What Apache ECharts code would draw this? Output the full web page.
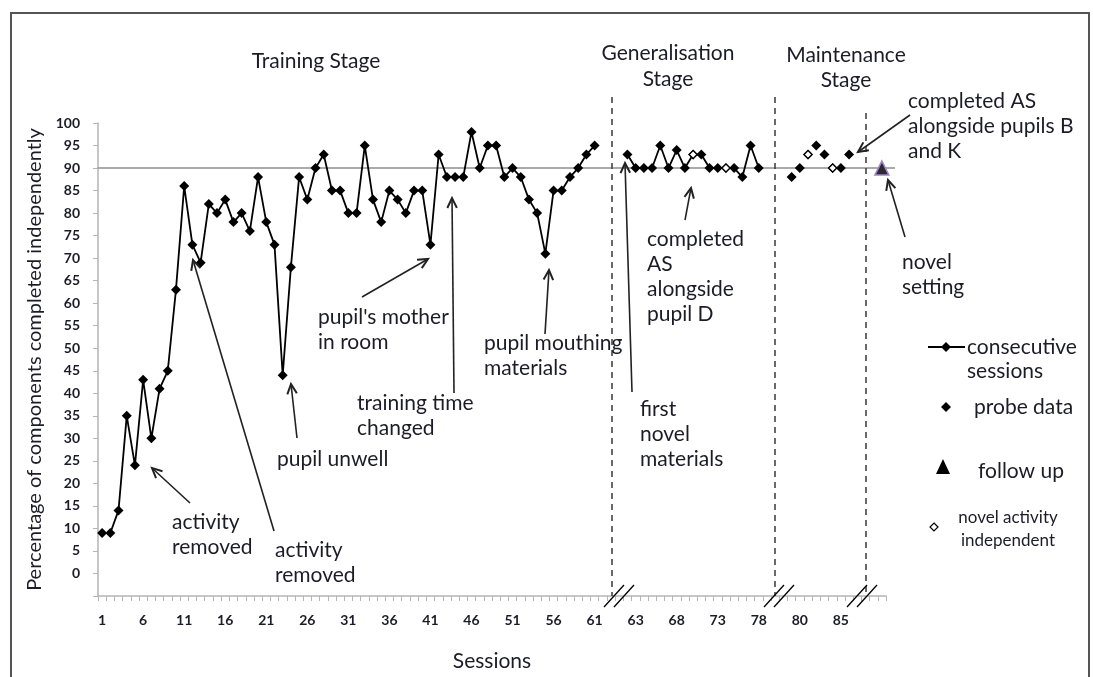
<!DOCTYPE html>
<html>
<head>
<meta charset="utf-8">
<script src="https://cdn.jsdelivr.net/npm/echarts@6/dist/echarts.min.js"></script>
<style>
  html, body { margin: 0; padding: 0; background: #fff; }
  #chart { width: 1093px; height: 677px; }
</style>
</head>
<body>
<div id="chart"></div>
<script>
// x categories: sessions, with empty slots where the axis is broken
const sessions = [
  '1','2','3','4','5','6','7','8','9','10','11','12','13','14','15','16','17','18','19','20',
  '21','22','23','24','25','26','27','28','29','30','31','32','33','34','35','36','37','38','39','40',
  '41','42','43','44','45','46','47','48','49','50','51','52','53','54','55','56','57','58','59','60','61',
  '', '', '',
  '62','63','64','65','66','67','68','69','70','71','72','73','74','75','76','77','78',
  '', '', '',
  '79','80','81','82','83','84','85','86',
  '', '', '', ''
];

// sessions 1-61
const trainingValues = [
  9, 9, 14, 35, 24, 43, 30, 41, 45, 63,
  86, 73, 69, 82, 80, 83, 78, 80, 76, 88,
  78, 73, 44, 68, 88, 83, 90, 93, 85, 85,
  80, 80, 95, 83, 78, 85, 83, 80, 85, 85,
  73, 93, 88, 88, 88, 98, 90, 95, 95, 88,
  90, 88, 83, 80, 71, 85, 85, 88, 90, 93,
  95
];
// sessions 62-78
const generalisationValues = [93, 90, 90, 90, 95, 90, 94, 90, 93, 93, 90, 90, 90, 90, 88, 95, 90];
// sessions 79-86 (probe data)
const maintenanceValues = [88, 90, 93, 95, 93, 90, 90, 93];
const followUpValue = 90;
const novelSessions = ['70', '74', '81', '84'];
const novelValues = [93, 90, 93, 90];
const criterion = 90;

const FONT = 'Lato, "Open Sans", sans-serif';
const TXT = '#1c1c28';

function pairs(values, firstSession) {
  const start = sessions.indexOf(firstSession);
  return values.map((v, i) => [start + i, v]);
}

const chart = echarts.init(document.getElementById('chart'));

const option = {
  animation: false,
  backgroundColor: '#fff',
  grid: { left: 98, right: 207, top: 123, bottom: 81 },
  xAxis: {
    type: 'category',
    data: sessions,
    boundaryGap: true,
    name: 'Sessions',
    nameLocation: 'middle',
    nameGap: 55,
    nameTextStyle: { fontFamily: FONT, fontSize: 21, color: TXT },
    axisLine: { onZero: false, lineStyle: { color: '#b5b5b5', width: 1.5 } },
    axisTick: { show: true, interval: 0, length: 5, lineStyle: { color: '#b5b5b5' } },
    axisLabel: { interval: 4, margin: 17, fontFamily: FONT, fontSize: 14, fontWeight: 'bold', color: TXT },
    splitLine: { show: false }
  },
  yAxis: {
    type: 'value',
    min: -5,
    max: 100,
    interval: 5,
    name: 'Percentage of components completed independently',
    nameLocation: 'middle',
    nameGap: 42,
    nameTextStyle: { fontFamily: FONT, fontSize: 20, color: TXT },
    axisLine: { show: true, lineStyle: { color: '#b5b5b5', width: 1.5 } },
    axisTick: { show: true, length: 5, lineStyle: { color: '#b5b5b5' } },
    axisLabel: {
      margin: 18, fontFamily: FONT, fontSize: 14, fontWeight: 'bold', color: TXT,
      formatter: v => (v < 0 ? '' : String(v))
    },
    splitLine: { show: false }
  },
  series: [
    {
      name: 'consecutive sessions',
      type: 'line',
      data: pairs(trainingValues, '1'),
      symbol: 'diamond',
      symbolSize: 10,
      showAllSymbol: true,
      lineStyle: { color: '#000', width: 1.8 },
      itemStyle: { color: '#000', opacity: 1 },
      z: 3
    },
    {
      name: 'consecutive sessions',
      type: 'line',
      data: pairs(generalisationValues, '62'),
      symbol: 'diamond',
      symbolSize: 10,
      showAllSymbol: true,
      lineStyle: { color: '#000', width: 1.8 },
      itemStyle: { color: '#000', opacity: 1 },
      z: 3
    },
    {
      name: 'probe data',
      type: 'scatter',
      data: pairs(maintenanceValues, '79'),
      symbol: 'diamond',
      symbolSize: 10,
      itemStyle: { color: '#000', opacity: 1 },
      z: 3
    },
    {
      name: 'follow up',
      type: 'scatter',
      data: [[sessions.length - 1, followUpValue]],
      symbol: 'triangle',
      symbolSize: 14,
      itemStyle: { color: '#2e2833', borderColor: '#9c88c8', borderWidth: 1.5, opacity: 1 },
      z: 4
    },
    {
      name: 'novel activity independent',
      type: 'scatter',
      data: novelSessions.map((s, i) => [sessions.indexOf(s), novelValues[i]]),
      symbol: 'diamond',
      symbolSize: 8,
      itemStyle: { color: '#fff', borderColor: '#000', borderWidth: 1.2, opacity: 1 },
      z: 5
    }
  ]
};

chart.setOption(option);

// ---- overlays: criterion line, stage dividers, axis breaks, notes, legend ----
const y90 = chart.convertToPixel({ yAxisIndex: 0 }, criterion);
const xAxisY = chart.convertToPixel({ yAxisIndex: 0 }, -5);

function line(x1, y1, x2, y2, style, z) {
  return { type: 'line', shape: { x1, y1, x2, y2 }, style: Object.assign({ stroke: '#000', lineWidth: 1.3 }, style || {}), z: z == null ? 10 : z };
}

function arrow(x1, y1, x2, y2) {
  // tail (x1,y1) -> head (x2,y2), open arrowhead
  const a = Math.atan2(y2 - y1, x2 - x1);
  const L = 11, w = Math.PI / 7;
  return [
    line(x1, y1, x2, y2, { stroke: '#222', lineWidth: 1.6 }),
    {
      type: 'polyline',
      shape: { points: [
        [x2 - L * Math.cos(a - w), y2 - L * Math.sin(a - w)],
        [x2, y2],
        [x2 - L * Math.cos(a + w), y2 - L * Math.sin(a + w)]
      ] },
      style: { stroke: '#222', lineWidth: 2, fill: null },
      z: 10
    }
  ];
}

function note(text, x, y, opts) {
  opts = opts || {};
  return {
    type: 'text',
    z: 10,
    style: {
      text, x, y,
      font: (opts.size || 21) + 'px ' + FONT,
      fill: TXT,
      textAlign: opts.align || 'left',
      textVerticalAlign: 'top',
      lineHeight: opts.lh || 25
    }
  };
}

function diamond(cx, cy, r, fill) {
  return {
    type: 'polygon',
    shape: { points: [[cx, cy - r], [cx + r, cy], [cx, cy + r], [cx - r, cy]] },
    style: { fill: fill || '#000', stroke: '#000', lineWidth: fill ? 1.2 : 0 },
    z: 10
  };
}

function axisBreak(cx) {
  return [
    line(cx - 16, xAxisY + 11, cx + 4, xAxisY - 11, { lineWidth: 1.3 }),
    line(cx - 6, xAxisY + 11, cx + 14, xAxisY - 11, { lineWidth: 1.3 })
  ];
}

const dash = { stroke: '#444', lineWidth: 1.6, lineDash: [6, 5] };

const graphics = [
  { type: 'rect', shape: { x: 11, y: 13, width: 1078, height: 700 }, style: { fill: null, stroke: '#555', lineWidth: 2 }, z: 1 },
  line(97, y90, 895, y90, { stroke: '#aaaaaa', lineWidth: 2 }, 1),
  line(612, 97, 612, xAxisY, dash, 1),
  line(775, 97, 775, xAxisY, dash, 1),
  line(866, 113, 866, xAxisY, dash, 1),
  ...axisBreak(620),
  ...axisBreak(780),
  ...axisBreak(863),

  note('Training Stage', 316, 49, { size: 21, align: 'center' }),
  note('Generalisation\nStage', 668, 40, { size: 21, align: 'center', lh: 26 }),
  note('Maintenance\nStage', 846, 43, { size: 21, align: 'center', lh: 25 }),

  note('completed AS\nalongside pupils B\nand K', 908, 89),
  ...arrow(910, 115, 858, 152),
  note('novel\nsetting', 902, 250),
  ...arrow(905, 237, 888, 180),
  note('completed\nAS\nalongside\npupil D', 647, 227),
  ...arrow(685, 220, 691, 188),
  note("pupil's mother\nin room", 318, 305),
  ...arrow(362, 297, 428, 259),
  note('pupil mouthing\nmaterials', 484, 331),
  ...arrow(545, 334, 549, 270),
  note('training time\nchanged', 357, 391),
  ...arrow(454, 393, 452, 198),
  note('first\nnovel\nmaterials', 640, 397),
  ...arrow(632, 392, 625, 163),
  note('pupil unwell', 277, 447),
  ...arrow(297, 438, 291, 384),
  note('activity\nremoved', 172, 510),
  ...arrow(190, 503, 152, 468),
  note('activity\nremoved', 275, 538),
  ...arrow(274, 531, 193, 260),

  // legend
  line(928, 347, 965, 347, { lineWidth: 1.8 }),
  diamond(946, 347, 5),
  note('consecutive\nsessions', 967, 335, { size: 21, lh: 24 }),
  diamond(946, 407, 5),
  note('probe data', 974, 395, { size: 21 }),
  {
    type: 'polygon',
    shape: { points: [[943, 459], [950, 474], [936, 474]] },
    style: { fill: '#000' },
    z: 10
  },
  note('follow up', 978, 459, { size: 21 }),
  diamond(934, 527, 4, '#fff'),
  note('novel activity\nindependent', 1008, 506, { size: 17, align: 'center', lh: 23 })
];

chart.setOption({ graphic: graphics });
</script>
</body>
</html>
